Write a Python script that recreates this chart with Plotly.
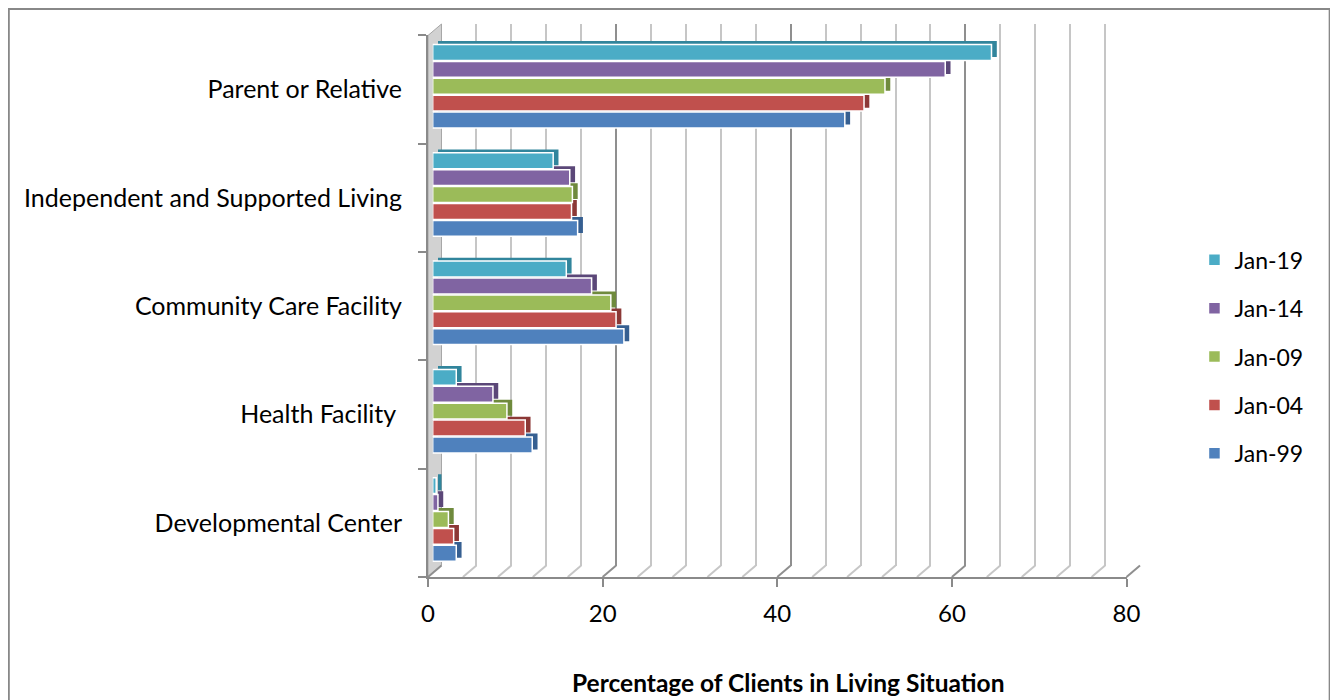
import plotly.graph_objects as go

# ---------------- data ----------------
categories = ["Developmental Center", "Health Facility ", "Community Care Facility",
              "Independent and Supported Living", "Parent or Relative"]
series_names = ["Jan-99", "Jan-04", "Jan-09", "Jan-14", "Jan-19"]
jan99 = [2.7, 11.4, 21.9, 16.6, 47.2]
jan04 = [2.4, 10.6, 21.0, 15.9, 49.4]
jan09 = [1.8, 8.5, 20.4, 16.0, 51.8]
jan14 = [0.6, 6.9, 18.2, 15.7, 58.7]
jan19 = [0.4, 2.7, 15.3, 13.8, 64.0]
x_ticks = [0, 20, 40, 60, 80]
x_title = "Percentage of Clients in Living Situation"

series_values = [jan99, jan04, jan09, jan14, jan19]
face_colors = ["#4f81bd", "#c0504d", "#9bbb59", "#8064a2", "#4bacc6"]
side_colors = ["#365f91", "#8c3836", "#6f8a3d", "#5b4778", "#31859c"]

# ---------------- geometry (screen pixels) ----------------
OFF = 8                      # page body margin
W, H = 1338 - OFF, 700 - OFF
L, FRONT_BOTTOM = 428, 577   # screen coordinates of front plane corner
PW, PH = 699, 542            # front plane size
DXB, DYB = 13.5, 11.5        # back wall depth offset
DXM, DYM = 4.7, 3.4          # bar front face offset
DXS, DYS = 10.0, 6.8         # bar back face offset
TW, TH = PW + DXB, PH + DYB
T = FRONT_BOTTOM - TH


def domx(d):
    return [max(0.0, d / TW), min(1.0, (d + PW) / TW)]


def domy(d):
    return [max(0.0, d / TH), min(1.0, (d + PH) / TH)]


def px2x(px):
    return (px - L) / TW


def py2y(py):
    return (FRONT_BOTTOM - py) / TH


fig = go.Figure()

# invisible carriers so the front axes and back wall grid are drawn
fig.add_trace(go.Scatter(x=[0] * len(categories), y=categories, mode="markers",
                         marker=dict(opacity=0), xaxis="x", yaxis="y",
                         showlegend=False, hoverinfo="skip"))
fig.add_trace(go.Scatter(x=[0], y=[0], mode="markers", marker=dict(opacity=0),
                         xaxis="x2", yaxis="y2", showlegend=False, hoverinfo="skip"))

# shadow (side/top faces) bars
for name, vals, col in zip(series_names, series_values, side_colors):
    fig.add_trace(go.Bar(x=vals, y=categories, orientation="h", name=name,
                         marker=dict(color=col, line=dict(width=0)),
                         xaxis="x3", yaxis="y3", showlegend=False, hoverinfo="skip"))

# front faces
n = len(series_names)
for i, (name, vals, col) in enumerate(zip(series_names, series_values, face_colors)):
    fig.add_trace(go.Bar(x=vals, y=categories, orientation="h", name=name,
                         marker=dict(color=col, line=dict(color="white", width=1.5)),
                         xaxis="x4", yaxis="y4", legendgroup=name,
                         legendrank=n - i))

cat_font = dict(family="Lato", size=25, color="#000000")
tick_font = dict(family="Lato", size=24, color="#000000")
leg_font = dict(family="Lato", size=23, color="#000000")
cat_axis = dict(type="category", categoryorder="array", categoryarray=categories,
                range=[-0.5, 4.5])

fig.update_layout(
    width=W, height=H,
    margin=dict(l=L - OFF, r=1338 - (L + TW), t=T - OFF, b=700 - FRONT_BOTTOM, pad=0),
    paper_bgcolor="white", plot_bgcolor="rgba(0,0,0,0)",
    barmode="group", bargap=0.22, bargroupgap=0.06,
    font=leg_font,
    xaxis=dict(domain=domx(0), anchor="y", range=[0, 80], tickvals=x_ticks,
               ticks="outside", ticklen=8, tickwidth=2, tickcolor="#8a8a8a",
               showline=True, linecolor="#8a8a8a", linewidth=2,
               showgrid=False, zeroline=False, tickfont=tick_font,
               ticklabelstandoff=6),
    yaxis=dict(domain=domy(0), anchor="x", tickson="boundaries",
               ticks="outside", ticklen=8, tickwidth=2, tickcolor="#8a8a8a",
               showline=True, linecolor="#8a8a8a", linewidth=2,
               showgrid=False, zeroline=False, tickfont=cat_font,
               ticklabelstandoff=19, **cat_axis),
    xaxis2=dict(domain=domx(DXB), anchor="y2", range=[0, 80], tick0=0, dtick=20,
                showgrid=True, gridcolor="#8f8f8f", gridwidth=2,
                minor=dict(dtick=4, showgrid=True, gridcolor="#c6c6c6", gridwidth=2),
                showticklabels=False, ticks="", zeroline=False, showline=False),
    yaxis2=dict(domain=domy(DYB), anchor="x2", range=[0, 1], visible=False),
    xaxis3=dict(domain=domx(DXS), anchor="y3", range=[0, 80], visible=False),
    yaxis3=dict(domain=domy(DYS), anchor="x3", visible=False, **cat_axis),
    xaxis4=dict(domain=domx(DXM), anchor="y4", range=[0, 80], visible=False),
    yaxis4=dict(domain=domy(DYM), anchor="x4", visible=False, **cat_axis),
    legend=dict(x=px2x(1195), y=py2y(238), xanchor="left", yanchor="top",
                traceorder="grouped", tracegroupgap=15.5,
                font=leg_font, bgcolor="rgba(0,0,0,0)"),
    showlegend=True,
)

shapes = []
# left side wall
shapes.append(dict(type="path", xref="paper", yref="paper", layer="below",
                   path=f"M 0 0 L {DXB / TW} {DYB / TH} L {DXB / TW} 1 L 0 {PH / TH} Z",
                   fillcolor="#d2d2d2", line=dict(color="#a6a6a6", width=1)))
# floor lines
for k in range(0, 81, 4):
    xf = L + k / 80 * PW
    col = "#8f8f8f" if k % 20 == 0 else "#c6c6c6"
    shapes.append(dict(type="line", xref="paper", yref="paper", layer="below",
                       x0=px2x(xf), y0=0, x1=px2x(xf + DXB), y1=DYB / TH,
                       line=dict(color=col, width=2)))
# outer frame
shapes.append(dict(type="rect", xref="paper", yref="paper",
                   x0=px2x(OFF + 0.5), x1=px2x(1330.3), y0=py2y(OFF + 0.5), y1=py2y(730),
                   line=dict(color="#888888", width=2), fillcolor="rgba(0,0,0,0)"))
fig.update_layout(shapes=shapes)

fig.add_annotation(text="<b>" + x_title + "</b>", xref="paper", yref="paper",
                   x=px2x(788), y=py2y(699.5), showarrow=False,
                   xanchor="center", yanchor="bottom",
                   font=dict(family="Lato", size=24.5, color="#000000"))

fig.write_html("out.html")
